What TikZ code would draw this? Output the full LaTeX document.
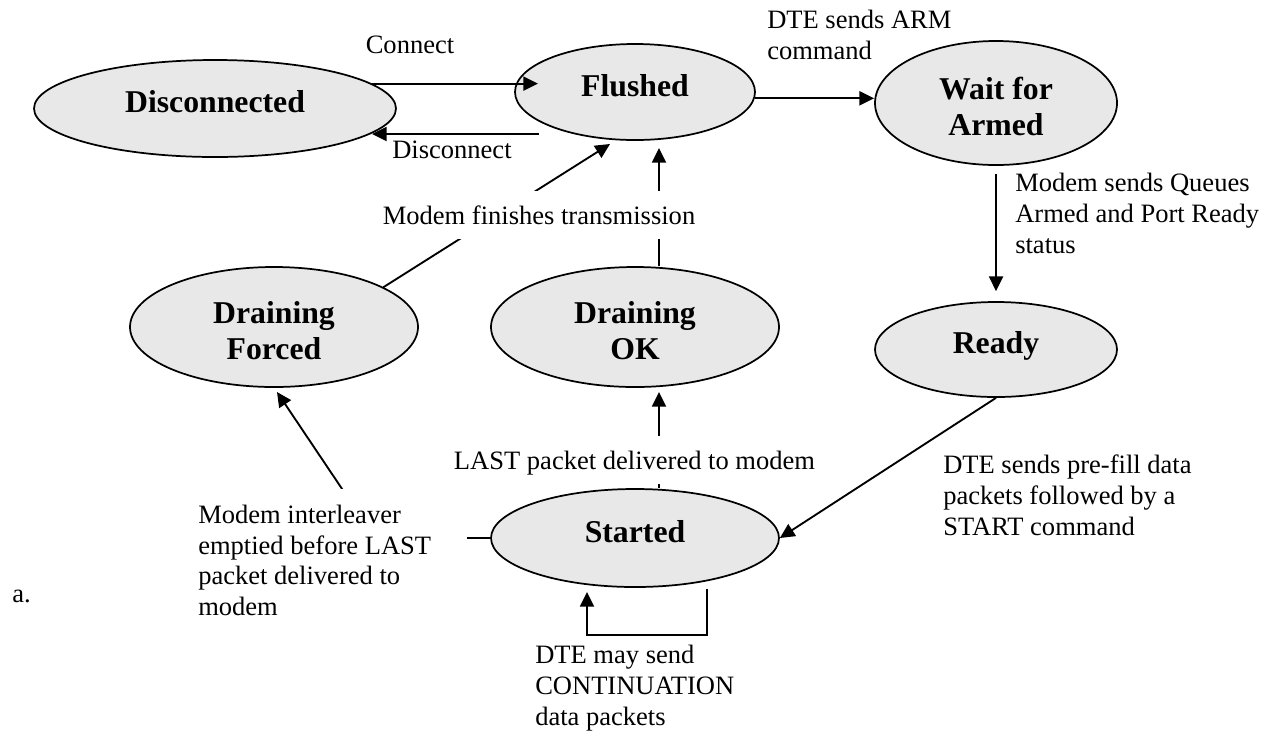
\documentclass[tikz,border=0pt]{standalone}
\usepackage{fontspec}
\setmainfont{Liberation Serif}
\usepackage{tikz}
\usetikzlibrary{positioning}
\usetikzlibrary{arrows.meta,shapes.geometric}

\definecolor{StateGray}{HTML}{E8E8E8}

\tikzset{
	state/.style={ellipse, draw, line width=1.3pt, fill=StateGray, inner sep=0pt, align=center,
		font=\fontsize{23.8pt}{27.5pt}\selectfont\bfseries},
	oneline/.style={text height=16pt, text depth=9.5pt},
	twoline/.style={text height=49pt, text depth=0pt},
	arr/.style={line width=1.4pt, -{Triangle[length=11pt,width=10.5pt]}},
	txt/.style={font=\fontsize{19.9pt}{22.9pt}\selectfont, inner sep=0pt, align=left},
	gap/.style={txt, fill=white, inner xsep=2pt, inner ysep=11pt, text depth=0pt},
}

\begin{document}
\begin{tikzpicture}[x=0.75pt, y=-0.75pt]
	\useasboundingbox (0,0) rectangle (1269,733);
	
	% ---------------------
	% States
	\node[state, oneline, minimum width=271.5pt, minimum height=72.75pt] (Disconnected) at (215,108.5) {Disconnected};
	\path (Disconnected) +(420,-16.5) node[state, oneline, minimum width=180pt, minimum height=72pt] (Flushed) {Flushed};
	\path (Flushed) +(361,11) node[state, twoline, minimum width=181.5pt, minimum height=93pt] (WaitArmed) {Wait for\\Armed};
	\path (WaitArmed) +(0,246.5) node[state, oneline, minimum width=181.5pt, minimum height=71.25pt] (Ready) {Ready};
	
	\path (Flushed) +(0,235) node[state, twoline, minimum width=216pt, minimum height=90pt] (DrainOK) {Draining\\OK};
	\path (DrainOK) +(-361,0) node[state, twoline, minimum width=216pt, minimum height=90pt] (DrainForced) {Draining\\Forced};
	\path (DrainOK) +(0,211) node[state, oneline, minimum width=216pt, minimum height=73.5pt] (Started) {Started};
	
	% ---------------------
	% Free ends
	\coordinate (ConnectTip) at (538,84);
	\coordinate (DisconnectTail) at (539,134);
	\coordinate (FinishTip) at (610,144);
	\coordinate (OKTip) at (659,148);
	\coordinate (LastTip) at (659,392);
	\coordinate (ForcedTip) at (277,392);
	\coordinate (ForcedBend) at (375,538);
	\coordinate (LoopRight) at (707,589);
	\coordinate (LoopLeft) at (587,592);
	
	% ---------------------
	% Transitions
	\draw[arr] (Disconnected.9) -- (Disconnected.9 -| ConnectTip);
	\draw[arr] (DisconnectTail) -- (Disconnected.-9 |- DisconnectTail);
	\draw[arr] (Flushed.-3) -- (Flushed.-3 -| WaitArmed.west);
	\draw[arr] ([yshift=-6pt]WaitArmed.south) -- ([yshift=7.5pt]Ready.north);
	\draw[arr] (Ready.south) -- (Started.east);
	\draw[arr] (LastTip |- Started.north) -- (LastTip);
	\draw[arr] (OKTip |- DrainOK.north) -- (OKTip);
	\draw[arr] (DrainForced.20) -- (FinishTip);
	\draw[arr] (Started.west) -- (ForcedBend) -- (ForcedTip);
	\draw[arr] (LoopRight) -- ++(0,46) -| (LoopLeft);
	
	% ---------------------
	% Labels (multi-line ones sit on their last baseline)
	\node[txt, anchor=base] (ConnectLbl) at (410,53) {Connect};
	\node[txt, anchor=base west] (DisconnectLbl) at (392,158) {Disconnect};
	\node[txt, anchor=base west] (ArmLbl) at (767,59) {DTE sends ARM\\command};
	\node[txt, anchor=base west] (QueuesLbl) at (1015,253) {Modem sends Queues\\Armed and Port Ready\\status};
	\node[txt, anchor=base west] (PrefillLbl) at (943,535) {DTE sends pre-fill data\\packets followed by a\\START command};
	\node[txt, anchor=base west] (ContLbl) at (535,725) {DTE may send\\CONTINUATION\\data packets};
	\node[txt, anchor=base west] (ALbl) at (12,602) {a.};
	
	\node[gap, anchor=base] (FinishLbl) at (539,224) {Modem finishes transmission};
	\node[gap, anchor=base] (LastLbl) at (634.5,469) {LAST packet delivered to modem};
	\node[txt, fill=white, anchor=north west, inner xsep=6pt, inner ysep=12pt, text width=195.75pt, align=flush left] (InterleaverLbl) at (190,489)
		{Modem interleaver\\emptied before LAST\\packet delivered to\\modem};
	
\end{tikzpicture}
\end{document}
